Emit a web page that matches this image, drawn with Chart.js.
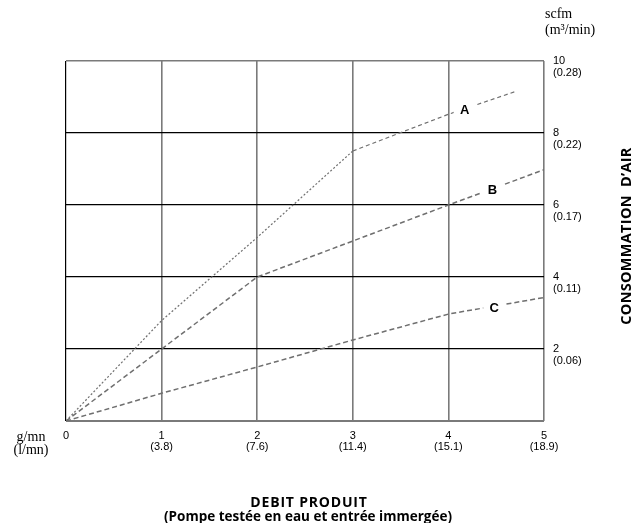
<!DOCTYPE html>
<html>
<head>
<meta charset="utf-8">
<script src="https://cdn.jsdelivr.net/npm/chart.js@4.4.1/dist/chart.umd.min.js"></script>
<style>
  html, body { margin: 0; padding: 0; background: #fff; }
</style>
</head>
<body>
<canvas id="graphe" width="642" height="523"></canvas>
<script>
// axe X : debit produit (g/mn et l/mn)
const debitGmn = [0, 1, 2, 3, 4, 5];
const debitLmn = ['', '(3.8)', '(7.6)', '(11.4)', '(15.1)', '(18.9)'];

// axe Y : consommation d'air (scfm et m3/min)
const airScfm = [2, 4, 6, 8, 10];
const airM3 = ['(0.06)', '(0.11)', '(0.17)', '(0.22)', '(0.28)'];

// courbes
const nomsCourbes = ['A', 'B', 'C'];
const courbeA_x = [0, 1, 2, 3, 4, 4.71];
const courbeA_y = [0, 2.79, 5.1, 7.5, 8.52, 9.16];
const courbeB_x = [0, 1, 2, 3, 4, 5];
const courbeB_y = [0, 2, 4, 5, 6, 6.98];
const courbeC_x = [0, 1, 2, 3, 4, 5];
const courbeC_y = [0, 0.77, 1.5, 2.25, 2.97, 3.43];

const gris = '#7a7a7a';
const trait = '#6f6f6f';

function points(xs, ys) {
    return xs.map((x, i) => ({ x: x, y: ys[i] }));
}

// valeur de la courbe pour un x donne (pour poser la lettre)
function interp(xs, ys, x) {
    for (let i = 1; i < xs.length; i++) {
        if (x <= xs[i]) {
            const t = (x - xs[i - 1]) / (xs[i] - xs[i - 1]);
            return ys[i - 1] + t * (ys[i] - ys[i - 1]);
        }
    }
    return ys[ys.length - 1];
}

const posLettres = [4.17, 4.46, 4.48]; // x des lettres A, B, C

const textes = {
    id: 'textes',
    afterDatasetsDraw(chart) {
        const c = chart.ctx;
        const sx = chart.scales.x, sy = chart.scales.y;
        c.save();

        // lettres A B C sur fond blanc (coupent le pointille)
        const series = [[courbeA_x, courbeA_y], [courbeB_x, courbeB_y], [courbeC_x, courbeC_y]];
        c.font = 'bold 13px "Liberation Sans", Arial, sans-serif';
        c.textAlign = 'center';
        c.textBaseline = 'middle';
        series.forEach((s, i) => {
            const xv = posLettres[i];
            const px = sx.getPixelForValue(xv);
            const py = sy.getPixelForValue(interp(s[0], s[1], xv));
            c.fillStyle = '#fff';
            c.fillRect(px - 11, py - 8, 22, 16);
            c.fillStyle = '#000';
            c.fillText(nomsCourbes[i], px, py + 2);
        });

        // unites en haut a droite et en bas a gauche
        c.fillStyle = '#000';
        c.font = '14px "Liberation Serif", "Times New Roman", serif';
        c.textAlign = 'left';
        c.textBaseline = 'alphabetic';
        c.fillText('scfm', 545, 18);
        c.fillText('(m\u00b3/min)', 545, 34);
        c.textAlign = 'center';
        c.fillText('g/mn', 31, 441);
        c.fillText('(l/mn)', 31, 454);

        // titre de l'axe X
        c.font = 'bold 14px "Open Sans", sans-serif';
        c.letterSpacing = '0.8px';
        c.fillText('DEBIT PRODUIT', 309, 507);
        c.font = 'bold 13.5px "Open Sans", sans-serif';
        c.letterSpacing = '0px';
        c.fillText('(Pompe testée en eau et entrée immergée)', 308, 521);

        // titre de l'axe Y (vertical)
        c.translate(627, 236);
        c.rotate(-Math.PI / 2);
        c.textBaseline = 'middle';
        c.font = 'bold 14.5px "Open Sans", sans-serif';
        c.letterSpacing = '0.3px';
        c.fillText('CONSOMMATION  D\u2019AIR', 0, 0);
        c.restore();
    }
};

new Chart(document.getElementById('graphe'), {
    type: 'line',
    data: {
        datasets: [
            {
                label: 'A',
                data: points(courbeA_x, courbeA_y),
                borderColor: trait,
                borderWidth: 1.2,
                segment: {
                    borderDash: ctx => ctx.p0.parsed.x < 3 ? [2, 2] : [4, 3]
                }
            },
            {
                label: 'B',
                data: points(courbeB_x, courbeB_y),
                borderColor: trait,
                borderWidth: 1.5,
                borderDash: [5, 3]
            },
            {
                label: 'C',
                data: points(courbeC_x, courbeC_y),
                borderColor: trait,
                borderWidth: 1.5,
                borderDash: [5, 3]
            }
        ]
    },
    options: {
        responsive: false,
        animation: false,
        elements: { point: { radius: 0 }, line: { tension: 0 } },
        layout: { padding: { left: 66, top: 61, right: 0, bottom: 0 } },
        plugins: { legend: { display: false }, tooltip: { enabled: false } },
        scales: {
            x: {
                type: 'linear',
                min: 0,
                max: 5,
                afterBuildTicks: s => { s.ticks = debitGmn.map(v => ({ value: v })); },
                afterFit: s => { s.height = 102; },
                border: { display: false },
                grid: {
                    drawTicks: false,
                    color: ctx => ctx.tick && ctx.tick.value === 0 ? '#000' : gris,
                    lineWidth: ctx => ctx.tick && ctx.tick.value === 0 ? 1.2 : 1.6
                },
                ticks: {
                    padding: 9,
                    maxRotation: 0,
                    color: '#000',
                    font: { family: '"Liberation Sans", Arial, sans-serif', size: 11, lineHeight: 1.05 },
                    callback: (v) => {
                        const i = debitGmn.indexOf(v);
                        return v === 0 ? String(v) : [String(v), debitLmn[i]];
                    }
                }
            },
            y: {
                position: 'right',
                min: 0,
                max: 10,
                afterBuildTicks: s => { s.ticks = [0].concat(airScfm).map(v => ({ value: v })); },
                afterFit: s => { s.width = 98; },
                border: { display: false },
                grid: {
                    drawTicks: false,
                    color: ctx => ctx.tick && (ctx.tick.value === 0 || ctx.tick.value === 10) ? gris : '#000',
                    lineWidth: ctx => ctx.tick && ctx.tick.value === 0 ? 2 : (ctx.tick && ctx.tick.value === 10 ? 1.6 : 1.2)
                },
                ticks: {
                    padding: 9,
                    labelOffset: 6,
                    color: '#000',
                    font: { family: '"Liberation Sans", Arial, sans-serif', size: 11, lineHeight: 1.1 },
                    callback: (v) => {
                        const i = airScfm.indexOf(v);
                        return i < 0 ? '' : [String(v), airM3[i]];
                    }
                }
            }
        }
    },
    plugins: [textes]
});
</script>
</body>
</html>
